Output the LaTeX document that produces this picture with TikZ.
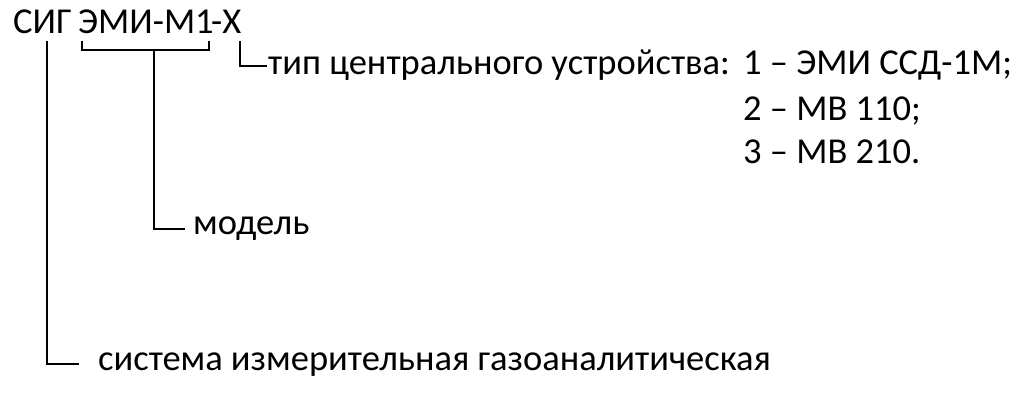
\documentclass[tikz,border=0pt]{standalone}
\usepackage{fontspec}
\setmainfont{Carlito}
\begin{document}
\begin{tikzpicture}[x=1pt, y=-1pt,
  txt/.style={anchor=base west, inner sep=0pt, font=\fontsize{36.5}{42}\selectfont},
  lead/.style={line width=1.8pt}]
\useasboundingbox (0,0) rectangle (1024,411);
% code
\node[txt] (sig) at (13,34) {СИГ};
\node[txt] (emi) at (78,34) {ЭМИ-М1};
\node[txt] (tail) at (211,34) {-Х};
% explanations
\node[txt] (type) at (268,75) {тип центрального устройства:};
\node[txt] (t1) at (743,75) {1 – ЭМИ ССД-1М;};
\node[txt] (t2) at (743,121) {2 – МВ 110;};
\node[txt] (t3) at (743,164) {3 – МВ 210.};
\node[txt] (model) at (193,235) {модель};
\node[txt] (sys) at (98,370) {система измерительная газоаналитическая};
% leaders
\coordinate (csig) at (47,41);
\coordinate (cemi) at (154,50);
\coordinate (ctail) at (240,41);
\draw[lead] (82,41) -- (82,50) -- (209,50) -- (209,41);
\draw[lead] (csig) |- ([xshift=-19pt]sys.west);
\draw[lead] (cemi) |- ([xshift=-8pt]model.west);
\draw[lead] (ctail) |- ([xshift=-1pt]type.west);
\end{tikzpicture}
\end{document}
